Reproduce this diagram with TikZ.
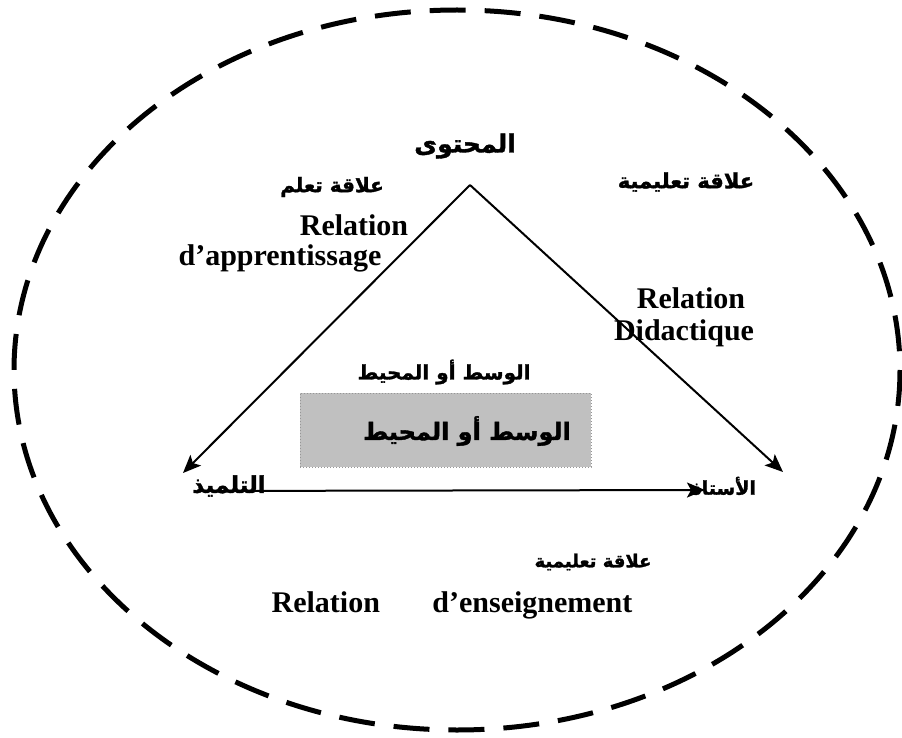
\documentclass[tikz,border=0pt]{standalone}
\usepackage{fontspec}
\setmainfont{Liberation Serif}
\newfontfamily\arfont[Script=Arabic,BoldFeatures={FakeBold=1.5}]{DejaVu Sans}
\TeXXeTstate=1
\usetikzlibrary{arrows.meta}
\newcommand{\AR}[1]{\beginR #1\endR}
\tikzset{
  lat/.style={inner sep=0pt, font=\fontsize{30}{32}\selectfont\bfseries},
  arl/.style={inner sep=0pt, font=\fontsize{#1}{#1}\selectfont\arfont\bfseries},
  tri/.style={line width=2pt, -{Stealth[length=18pt,width=15pt,inset=4pt]}},
  outer/.style={line width=5pt, dash pattern=on 36pt off 19pt},
  env/.style={fill={rgb,255:red,192;green,192;blue,192}, draw={rgb,255:red,150;green,150;blue,150}, dotted, line width=1pt, minimum width=291pt, minimum height=74pt, inner sep=0pt}
}
\begin{document}
\begin{tikzpicture}[x=1pt,y=-1pt]
\useasboundingbox (0,0) rectangle (902,738);
\node[draw=none] (circ) at (457,370) {};
\draw[outer] (circ.center) ellipse [x radius=443, y radius=360];
\coordinate (apex) at (470,185);
\coordinate (lt) at (183,473);
\coordinate (rt) at (783,472);
\coordinate (bl) at (197,491);
\coordinate (br) at (705,490);
\node[env] (box) at (445.5,430) {};
\node[arl=24] (boxtxt) at (467,431) {\AR{الوسط أو المحيط}};
\node[arl=20] (milieu) at (444,372) {\AR{الوسط أو المحيط}};
\draw[tri] (apex) -- (lt);
\draw[tri] (apex) -- (rt);
\draw[tri] (bl) -- (br);
\node[arl=25] (content) at (465,146) {\AR{المحتوى}};
\node[arl=20] (learnar) at (332,187) {\AR{علاقة تعلم}};
\node[lat] (rel1) at (354,225) {Relation};
\node[lat] (appr) at (280,258) {d’apprentissage};
\node[arl=21] (didar) at (686,182) {\AR{علاقة تعليمية}};
\node[lat] (rel2) at (691,298) {Relation};
\node[lat] (did) at (684,333) {Didactique};
\node[arl=23] (pupil) at (229,486) {\AR{التلميذ}};
\node[arl=19] (teacher) at (724,486) {\AR{الأستاذ}};
\node[arl=18] (teachar) at (593,562) {\AR{علاقة تعليمية}};
\node[lat] (ens) at (452,605) {Relation\hspace{45pt} d’enseignement};
\end{tikzpicture}
\end{document}
